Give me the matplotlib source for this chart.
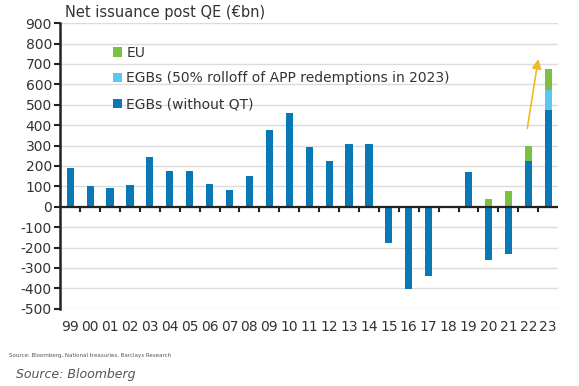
import numpy as np
import matplotlib
matplotlib.use("Agg")
from matplotlib import pyplot as plt
from matplotlib.ticker import MultipleLocator
from matplotlib.patches import FancyArrowPatch

plt.rcParams["axes.unicode_minus"] = False

#################################
# data
#################################
years = ["99", "00", "01", "02", "03", "04", "05", "06", "07", "08", "09", "10",
         "11", "12", "13", "14", "15", "16", "17", "18", "19", "20", "21", "22", "23"]

# EGBs without QT
egb = [192, 104, 94, 108, 246, 177, 177, 113, 84, 153, 374, 458,
       295, 226, 310, 310, -177, -404, -340, 0, 172, -261, -232, 222, 473]
# EGBs, 50% rolloff of APP redemptions in 2023
rolloff = [0, 0, 0, 0, 0, 0, 0, 0, 0, 0, 0, 0,
           0, 0, 0, 0, 0, 0, 0, 0, 0, 0, 0, 0, 98]
# EU issuance
eu = [0, 0, 0, 0, 0, 0, 0, 0, 0, 0, 0, 0,
      0, 0, 0, 0, 0, 0, 0, 0, 0, 40, 79, 78, 104]

# arrow (start, end) in data coordinates (x = category index)
arrow_from = (22.95, 384)
arrow_to = (23.5, 724)

c_egb = "#0a78b4"
c_roll = "#5cc8f0"
c_eu = "#7ac143"

#################################
# plot
#################################
fig = plt.figure(figsize=(5.79, 3.86), dpi=100)
ax = fig.add_axes([0.104, 0.2, 0.86, 0.74])

x = np.arange(len(years))
egb = np.array(egb, dtype=float)
rolloff = np.array(rolloff, dtype=float)
eu = np.array(eu, dtype=float)

w = 0.36
ax.bar(x, egb, w, color=c_egb, label="EGBs (without QT)", zorder=3)
ax.bar(x, rolloff, w, bottom=np.clip(egb, 0, None), color=c_roll,
       label="EGBs (50% rolloff of APP redemptions in 2023)", zorder=3)
ax.bar(x, eu, w, bottom=np.clip(egb, 0, None) + rolloff, color=c_eu,
       label="EU", zorder=3)

ax.set_xlim(-0.5, len(years) - 0.5)
ax.set_ylim(-500, 900)

arr = FancyArrowPatch(arrow_from, arrow_to, arrowstyle="-|>", color="#f5b825",
                      lw=1.2, mutation_scale=14, shrinkA=0, shrinkB=0,
                      transform=ax.transData, zorder=4, clip_on=False)
ax.add_patch(arr)

ax.yaxis.set_major_locator(MultipleLocator(100))
ax.grid(axis="y", color="#dcdcdc", lw=1, zorder=0)

for s in ["top", "right", "bottom"]:
    ax.spines[s].set_visible(False)
ax.spines["left"].set_linewidth(1.8)
ax.spines["left"].set_color("#222222")
ax.axhline(0, color="#222222", lw=1.6, zorder=5)

# ticks between categories on the zero line
for b in np.arange(0.5, len(years) - 0.5):
    ax.plot([b, b], [0, -22], color="#222222", lw=1.5, zorder=5, clip_on=False)

ax.set_xticks(x)
ax.set_xticklabels(years)
ax.tick_params(axis="x", length=0, pad=8)
ax.tick_params(axis="y", length=4, width=1.5, color="#222222", pad=2)
ax.tick_params(labelsize=10, labelcolor="#333333")

h, l = ax.get_legend_handles_labels()
ax.legend(h[::-1], l[::-1], loc="upper left", bbox_to_anchor=(0.08, 0.965),
          frameon=False, fontsize=10, handlelength=0.7, handleheight=0.7,
          handletextpad=0.3, labelspacing=0.85, labelcolor="#333333")

fig.text(0.112, 0.955, "Net issuance post QE (€bn)", fontsize=10.5, color="#333333")
fig.text(0.015, 0.075, "Source: Bloomberg, National treasuries, Barclays Research",
         fontsize=4, color="#555555")
fig.text(0.028, 0.02, "Source: Bloomberg", fontsize=9, style="italic", color="#555555")

fig.savefig("out.png", dpi=100)
